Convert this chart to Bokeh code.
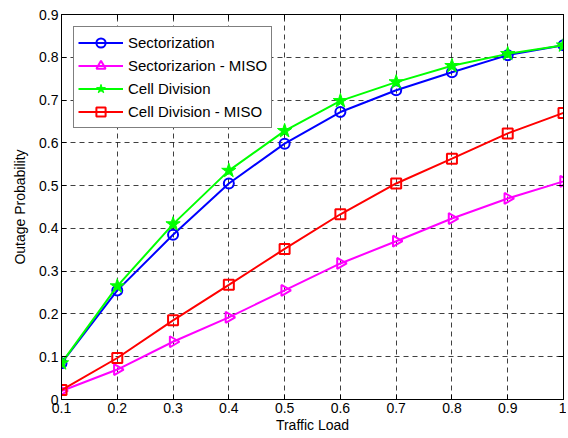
import math
from bokeh.plotting import figure
from bokeh.models import (LinearAxis, FixedTicker, Range1d, Legend, LegendItem,
                          ColumnDataSource, CustomJSTickFormatter)
from bokeh.embed import file_html
from bokeh.resources import INLINE

load = [0.1, 0.2, 0.3, 0.4, 0.5, 0.6, 0.7, 0.8, 0.9, 1.0]
sectorization = [0.085, 0.255, 0.385, 0.505, 0.598, 0.672, 0.723, 0.765, 0.805, 0.828]
sectorization_miso = [0.020, 0.070, 0.135, 0.192, 0.255, 0.318, 0.370, 0.423, 0.470, 0.510]
cell_division = [0.085, 0.265, 0.410, 0.535, 0.628, 0.698, 0.742, 0.780, 0.808, 0.828]
cell_division_miso = [0.022, 0.097, 0.185, 0.268, 0.352, 0.433, 0.505, 0.563, 0.622, 0.670]

x_ticks = [0.1, 0.2, 0.3, 0.4, 0.5, 0.6, 0.7, 0.8, 0.9, 1.0]
x_tick_labels = ["0.1", "0.2", "0.3", "0.4", "0.5", "0.6", "0.7", "0.8", "0.9", "1"]
y_ticks = [0, 0.1, 0.2, 0.3, 0.4, 0.5, 0.6, 0.7, 0.8, 0.9]
y_tick_labels = ["0", "0.1", "0.2", "0.3", "0.4", "0.5", "0.6", "0.7", "0.8", "0.9"]

FONT = "Liberation Sans"

p = figure(width=566, height=436, output_backend="svg", toolbar_location=None,
           x_range=Range1d(0.1, 1.0), y_range=Range1d(0, 0.9),
           min_border_left=61, min_border_right=3, min_border_top=14, min_border_bottom=37)
p.background_fill_color = "white"
p.border_fill_color = "white"
p.outline_line_color = "black"
p.outline_line_width = 1

for ax, ticks, labels in ((p.xaxis[0], x_ticks, x_tick_labels), (p.yaxis[0], y_ticks, y_tick_labels)):
    ax.ticker = FixedTicker(ticks=ticks)
    ax.major_label_overrides = {t: l for t, l in zip(ticks, labels)}
    ax.major_tick_in = 5
    ax.major_tick_out = 0
    ax.minor_tick_line_color = None
    ax.axis_line_color = "black"
    ax.major_tick_line_color = "black"
    ax.major_label_text_font = FONT
    ax.major_label_text_font_size = "14px"
    ax.major_label_text_color = "black"
    ax.axis_label_text_font = FONT
    ax.axis_label_text_font_size = "14px"
    ax.axis_label_text_font_style = "normal"
    ax.axis_label_text_color = "black"
    ax.major_label_standoff = 3

p.xaxis[0].axis_label = "Traffic Load"
p.xaxis[0].axis_label_standoff = 1
p.yaxis[0].axis_label = "Outage Probability"
p.yaxis[0].axis_label_standoff = 8

blank = CustomJSTickFormatter(code="return ''")
top = LinearAxis(ticker=FixedTicker(ticks=x_ticks), formatter=blank,
                 major_tick_in=5, major_tick_out=0, minor_tick_line_color=None,
                 major_label_standoff=0)
right = LinearAxis(ticker=FixedTicker(ticks=y_ticks), formatter=blank,
                   major_tick_in=5, major_tick_out=0, minor_tick_line_color=None,
                   major_label_standoff=0)
p.add_layout(top, "above")
p.add_layout(right, "right")

p.xgrid[0].ticker = FixedTicker(ticks=x_ticks)
p.ygrid[0].ticker = FixedTicker(ticks=y_ticks)
for g in (p.xgrid[0], p.ygrid[0]):
    g.grid_line_color = "black"
    g.grid_line_alpha = 0.75
    g.grid_line_dash = "5 4"
    g.grid_line_width = 1

lw = 2
src2 = ColumnDataSource(dict(x=load, y=sectorization_miso, ang=[-math.pi / 2] * len(load)))

r1 = p.line(load, sectorization, line_color="#0000ff", line_width=lw)
m1 = p.scatter(load, sectorization, marker="circle", size=10, fill_color=None,
               line_color="#0000ff", line_width=2)
r2 = p.line(load, sectorization_miso, line_color="#ff00ff", line_width=lw)
m2 = p.scatter("x", "y", source=src2, marker="triangle", size=11, angle="ang",
               fill_color=None, line_color="#ff00ff", line_width=2)
r3 = p.line(load, cell_division, line_color="#00ff00", line_width=lw)
m3 = p.scatter(load, cell_division, marker="star", size=15, fill_color="#00ff00",
               line_color="#00ff00", line_width=1)
r4 = p.line(load, cell_division_miso, line_color="#ff0000", line_width=lw)
m4 = p.scatter(load, cell_division_miso, marker="square", size=10, fill_color=None,
               line_color="#ff0000", line_width=2)

legend = Legend(items=[LegendItem(label="Sectorization", renderers=[r1, m1], index=0),
                       LegendItem(label="Sectorizarion - MISO", renderers=[r2, m2], index=0),
                       LegendItem(label="Cell Division", renderers=[r3, m3], index=0),
                       LegendItem(label="Cell Division - MISO", renderers=[r4, m4], index=0)],
                location="top_left")
legend.border_line_color = "black"
legend.border_line_width = 1
legend.label_text_font = FONT
legend.label_text_font_size = "15px"
legend.label_text_color = "black"
legend.glyph_width = 45
legend.glyph_height = 23
legend.label_height = 16
legend.spacing = -2
legend.padding = 4
legend.margin = 12
legend.label_standoff = 5
legend.background_fill_alpha = 1
p.add_layout(legend)

open("out.html", "w").write(file_html(p, INLINE))
